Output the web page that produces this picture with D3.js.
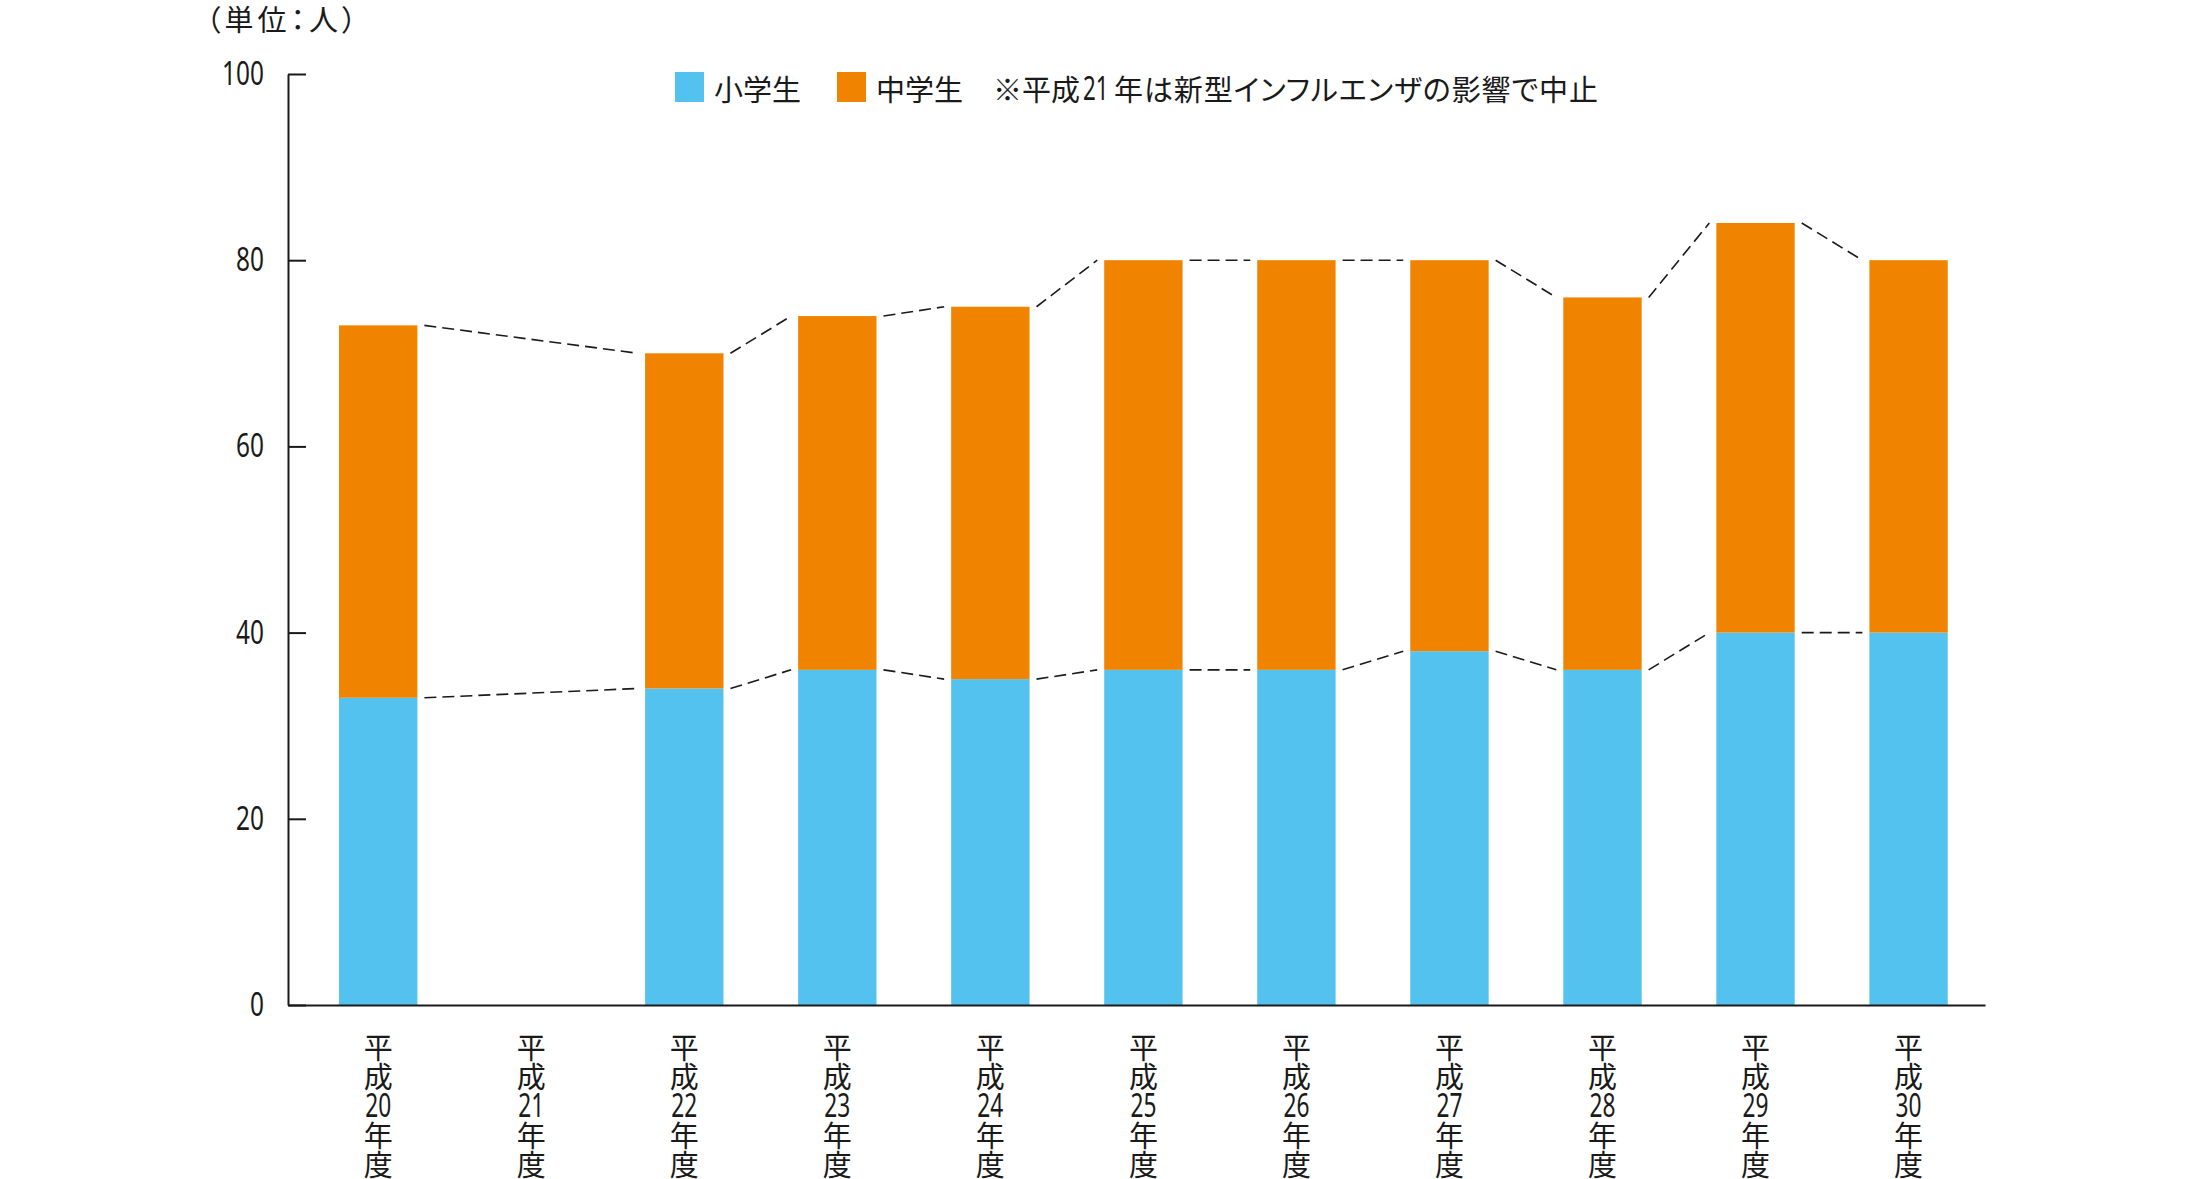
<!DOCTYPE html>
<html lang="ja">
<head>
<meta charset="utf-8">
<script src="https://cdn.jsdelivr.net/npm/d3@7"></script>
<style>
  html, body { margin: 0; padding: 0; background: #fff; }
  svg { display: block; }
</style>
</head>
<body>
<svg id="chart" width="2200" height="1179"></svg>
<script>
// ---- data ----
const categories = ["平成20年度","平成21年度","平成22年度","平成23年度","平成24年度","平成25年度","平成26年度","平成27年度","平成28年度","平成29年度","平成30年度"];
const yearNumbers = ["20","21","22","23","24","25","26","27","28","29","30"];
const elementary = [33, null, 34, 36, 35, 36, 36, 38, 36, 40, 40];   // 小学生
const juniorHigh = [40, null, 36, 38, 40, 44, 44, 42, 40, 44, 40];   // 中学生
const yTicks = [0, 20, 40, 60, 80, 100];
const seriesNames = ["小学生", "中学生"];
const noteText = ["※平成", "21", "年は新型インフルエンザの影響で中止"];
const unitText = "（単位：人）";

// ---- style ----
const colors = { "小学生": "#53C2EF", "中学生": "#F08300" };
const ink = "#1a1a1a";
const cjk = "'Noto Sans CJK JP', 'Noto Sans', sans-serif";
const latin = "'Noto Sans', 'DejaVu Sans', sans-serif";

const svg = d3.select("#chart");

const axisX0 = 288, axisX1 = 1985;
const y = d3.scaleLinear().domain([0, 100]).range([1005, 74]);
const x = d3.scaleBand().domain(categories).range([axisX0, axisX1])
  .paddingInner(0.488).paddingOuter(0.2885).align(0.578);
const bw = x.bandwidth();

// ---- bars ----
const rows = categories.map((c, i) => ({ c, e: elementary[i], j: juniorHigh[i] }));
const barG = svg.append("g");
rows.filter(d => d.e != null).forEach(d => {
  barG.append("rect").attr("x", x(d.c)).attr("width", bw)
    .attr("y", y(d.e)).attr("height", y(0) - y(d.e)).attr("fill", colors["小学生"]);
  barG.append("rect").attr("x", x(d.c)).attr("width", bw)
    .attr("y", y(d.e + d.j)).attr("height", y(d.e) - y(d.e + d.j)).attr("fill", colors["中学生"]);
});

// ---- dashed connector lines ----
const lineG = svg.append("g").attr("fill", "none").attr("stroke", ink)
  .attr("stroke-width", 1.6).attr("stroke-dasharray", "12,6");
const valid = rows.filter(d => d.e != null);
[d => d.e, d => d.e + d.j].forEach(acc => {
  for (let k = 0; k < valid.length - 1; k++) {
    const a = valid[k], b = valid[k + 1];
    lineG.append("line")
      .attr("x1", x(a.c) + bw + 7).attr("y1", y(acc(a)))
      .attr("x2", x(b.c) - 7).attr("y2", y(acc(b)));
  }
});

// ---- y axis ----
const sx = 0.74;
const yAxis = d3.axisLeft(y).tickValues(yTicks).tickSizeInner(-18).tickSizeOuter(0).tickPadding(24);
svg.append("g").attr("transform", `translate(${axisX0},0)`).call(yAxis)
  .call(g => {
    g.select(".domain").attr("stroke", ink).attr("stroke-width", 2);
    g.selectAll(".tick line").attr("stroke", ink).attr("stroke-width", 2);
    g.selectAll(".tick text").attr("font-family", latin).attr("font-size", 33)
      .attr("fill", ink).attr("transform", `scale(${sx},1)`).attr("x", -24 / sx);
  });

// ---- x axis (vertical stacked labels, one text element per category) ----
const xAxis = d3.axisBottom(x).tickSize(0).tickSizeOuter(0).tickFormat("");
svg.append("g").attr("transform", `translate(0,${y(0)})`).call(xAxis)
  .call(g => {
    g.select(".domain").attr("stroke", ink).attr("stroke-width", 2);
    g.selectAll(".tick text").remove();
    g.selectAll(".tick").each(function(d, i) {
      const t = d3.select(this).append("text")
        .attr("text-anchor", "middle").attr("fill", ink)
        .attr("font-family", cjk).attr("font-size", 29);
      const parts = ["平", "成", yearNumbers[i], "年", "度"];
      parts.forEach((p, k) => {
        const cy = 43 + k * 29.2;
        const ts = t.append("tspan").attr("x", 0).attr("y", cy + 11).text(p);
        if (/\d/.test(p)) {
          ts.attr("font-family", latin).attr("font-size", 32)
            .attr("textLength", 26).attr("lengthAdjust", "spacingAndGlyphs");
        }
      });
    });
  });

// ---- unit label ----
svg.append("text").attr("x", 206).attr("y", 18).attr("dominant-baseline", "central")
  .attr("font-family", cjk).attr("font-size", 29).attr("fill", ink)
  .attr("letter-spacing", 4)
  .style("font-feature-settings", "'palt'").text(unitText);

// ---- legend ----
const lg = svg.append("g");
const legendItems = [
  { name: seriesNames[0], sqX: 675, txX: 714 },
  { name: seriesNames[1], sqX: 837, txX: 876 }
];
legendItems.forEach(it => {
  lg.append("rect").attr("x", it.sqX).attr("y", 72).attr("width", 29).attr("height", 30)
    .attr("fill", colors[it.name]);
  lg.append("text").attr("x", it.txX).attr("y", 87.5).attr("dominant-baseline", "central")
    .attr("font-family", cjk).attr("font-size", 29).attr("fill", ink).text(it.name);
});
lg.append("text").attr("x", 993).attr("y", 87.5).attr("dominant-baseline", "central")
  .attr("font-family", cjk).attr("font-size", 29).attr("fill", ink).text(noteText[0]);
lg.append("text").attr("transform", `translate(1083,87.5) scale(0.7,1)`)
  .attr("dominant-baseline", "central")
  .attr("font-family", latin).attr("font-size", 32).attr("fill", ink).text(noteText[1]);
lg.append("text").attr("x", 1114).attr("y", 87.5).attr("dominant-baseline", "central")
  .attr("font-family", cjk).attr("font-size", 29).attr("fill", ink)
  .attr("textLength", 484).attr("lengthAdjust", "spacing")
  .style("font-feature-settings", "'palt'").text(noteText[2]);
</script>
</body>
</html>
